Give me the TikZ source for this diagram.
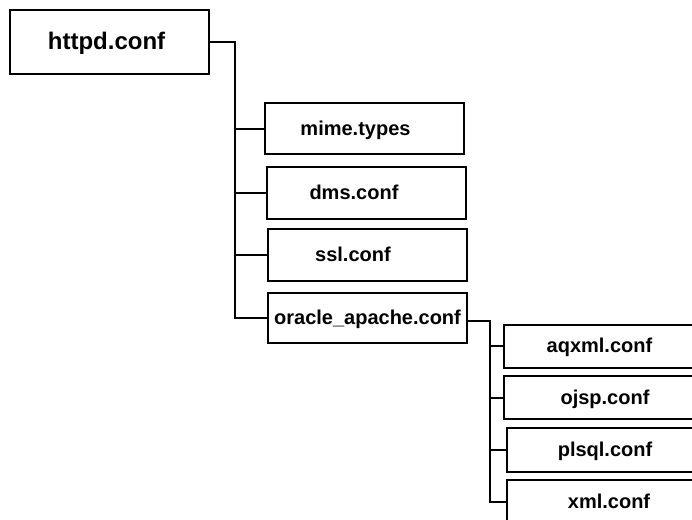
\documentclass[tikz,border=0pt]{standalone}
\usepackage{fontspec}
\setmainfont{Liberation Sans}
\begin{document}
\begin{tikzpicture}[x=0.75pt,y=-0.75pt,
  filebox/.style={draw=black, line width=1.5pt, fill=white, inner sep=0pt,
                  minimum width=149.25pt},
  lbl/.style={font=\bfseries\fontsize{15}{18}\selectfont,
              text height=0.7em, text depth=0pt, inner sep=0pt, yshift=-1.5pt},
  biglbl/.style={font=\bfseries\fontsize{18}{22}\selectfont,
                 text height=0.7em, text depth=0pt, inner sep=0pt, yshift=-2pt},
  link/.style={draw=black, line width=1.5pt}]
\useasboundingbox (0,0) rectangle (692,520);
\clip (0,0) rectangle (692,520);

% root file
\node[filebox, minimum height=48pt,
      label={[biglbl, xshift=-2.25pt]center:httpd.conf}] (httpd) at (109.5,42) {};

% files included by httpd.conf
\node[filebox, minimum height=38.25pt,
      label={[lbl, xshift=-6.75pt]center:mime.types}] (mime) at (364.5,129) {};
\node[filebox, minimum height=39pt,
      label={[lbl, xshift=-9.4pt]center:dms.conf}] (dms) at (366.5,193) {};
\node[filebox, minimum height=39pt,
      label={[lbl, xshift=-10.9pt]center:ssl.conf}] (ssl) at (367.5,255) {};
\node[filebox, minimum height=37.5pt,
      label={[lbl]center:oracle\_apache.conf}] (oracle) at (367.5,318) {};

% files included by oracle_apache.conf
\node[filebox, minimum width=150pt, minimum height=32.25pt,
      label={[lbl, xshift=-3.4pt]center:aqxml.conf}] (aqxml) at (604,346) {};
\node[filebox, minimum width=150pt, minimum height=32.25pt,
      label={[lbl, xshift=0.75pt]center:ojsp.conf}] (ojsp) at (604,397.5) {};
\node[filebox, minimum width=150pt, minimum height=33pt,
      label={[lbl, xshift=-1.5pt]center:plsql.conf}] (plsql) at (607,450) {};
\node[filebox, minimum width=150pt, minimum height=33pt,
      label={[lbl, xshift=1.5pt]center:xml.conf}] (xml) at (607,502) {};

% tree connectors
\coordinate (trunk) at (235,0);
\coordinate (trunkb) at (490,0);

\draw[link] (httpd.east) -| (trunk |- oracle.west) -- (oracle.west);
\draw[link] (trunk |- mime.west) -- (mime.west);
\draw[link] (trunk |- dms.west) -- (dms.west);
\draw[link] (trunk |- ssl.west) -- (ssl.west);

\draw[link] ([yshift=-2.25pt]oracle.east) -| (trunkb |- xml.west) -- (xml.west);
\draw[link] (trunkb |- aqxml.west) -- (aqxml.west);
\draw[link] (trunkb |- ojsp.west) -- (ojsp.west);
\draw[link] (trunkb |- plsql.west) -- (plsql.west);
\end{tikzpicture}
\end{document}
